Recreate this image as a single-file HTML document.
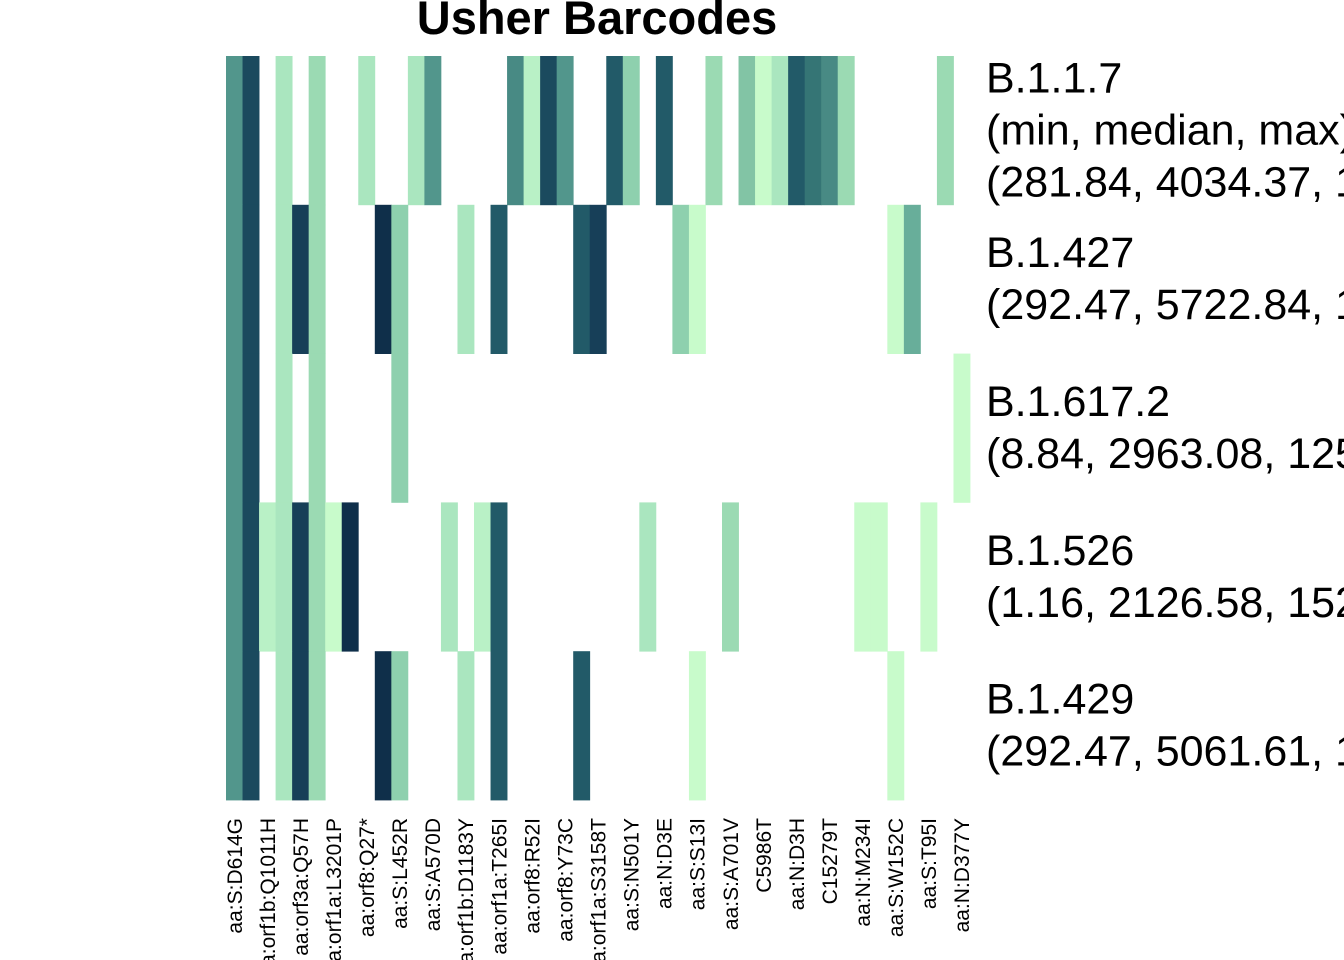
<!DOCTYPE html>
<html><head><meta charset="utf-8"><style>
html,body{margin:0;padding:0;background:#fff;}
svg{display:block;font-family:"Liberation Sans",Arial,sans-serif;}
</style></head><body>
<svg id="chart" width="1344" height="960" viewBox="0 0 1344 960" xmlns="http://www.w3.org/2000/svg">
<text x="597" y="34" text-anchor="middle" font-size="47" font-weight="bold" fill="#000">Usher Barcodes</text>
<g id="cells"></g><g id="xlabels"></g><g id="ylabels"></g>
</svg>
<script>
const lineages = ["B.1.1.7","B.1.427","B.1.617.2","B.1.526","B.1.429"];
const rowStats = [["(min, median, max)","(281.84, 4034.37, 12500.00)"],["(292.47, 5722.84, 12500.00)"],["(8.84, 2963.08, 12500.00)"],["(1.16, 2126.58, 15200.00)"],["(292.47, 5061.61, 12500.00)"]];
const colLabels = ["aa:S:D614G","aa:orf1b:Q1011H","aa:orf3a:Q57H","aa:orf1a:L3201P","aa:orf8:Q27*","aa:S:L452R","aa:S:A570D","aa:orf1b:D1183Y","aa:orf1a:T265I","aa:orf8:R52I","aa:orf8:Y73C","aa:orf1a:S3158T","aa:S:N501Y","aa:N:D3E","aa:S:S13I","aa:S:A701V","C5986T","aa:N:D3H","C15279T","aa:N:M234I","aa:S:W152C","aa:S:T95I","aa:N:D377Y"];
const nCols = 45;
// value levels per cell (0 = absent, 1 lightest .. 14 darkest), listed as [column, level]
const row0 = [[0,8],[1,12],[3,3],[5,4],[8,3],[11,3],[12,8],[17,9],[18,2],[19,12],[20,8],[23,11],[24,5],[26,11],[29,4],[31,6],[32,1],[33,3],[34,11],[35,10],[36,9],[37,4],[43,4]];
const row1 = [[0,8],[1,12],[3,3],[4,13],[5,4],[9,14],[10,5],[14,3],[16,11],[21,11],[22,13],[27,5],[28,1],[40,1],[41,7]];
const row2 = [[0,8],[1,12],[3,3],[5,4],[10,5],[44,1]];
const row3 = [[0,8],[1,12],[2,2],[3,3],[4,13],[5,4],[6,1],[7,14],[13,3],[15,2],[16,11],[25,3],[30,4],[38,1],[39,1],[42,1]];
const row4 = [[0,8],[1,12],[3,3],[4,13],[5,4],[9,14],[10,5],[14,3],[16,11],[21,11],[28,1],[40,1]];
const rows = [row0,row1,row2,row3,row4];
const palette = ["#ffffff","#c8fbcb","#b9f1c6","#aae6bf","#9bdab3","#8ed0ae","#82c4a5","#68ae9a","#52968c","#488a84","#357575","#225a68","#1b4a5e","#173f58","#0f2f4a"];

const X0=226, X1=970, Y0=56, Y1=800;
const cw=(X1-X0)/nCols, rh=(Y1-Y0)/lineages.length;
const xPos=c=>X0+c*cw, yPos=r=>Y0+r*rh;
const NS="http://www.w3.org/2000/svg";
const cells=document.getElementById('cells');
rows.forEach((row,r)=>{row.forEach(([c,v])=>{
  const el=document.createElementNS(NS,'rect');
  el.setAttribute('x',xPos(c));el.setAttribute('y',yPos(r));
  el.setAttribute('width',cw+0.4);el.setAttribute('height',rh+0.4);
  el.setAttribute('fill',palette[v]);
  
  
  cells.appendChild(el);
});});
const xl=document.getElementById('xlabels');
colLabels.forEach((t,i)=>{
  const cx=xPos(2*i)+cw/2+7.5, y=818;
  const el=document.createElementNS(NS,'text');
  el.setAttribute('transform',`translate(${cx},${y}) rotate(-90)`);
  el.setAttribute('text-anchor','end');el.setAttribute('font-size','21');
  el.textContent=t;
  
  
  xl.appendChild(el);
});
const yl=document.getElementById('ylabels');
lineages.forEach((name,r)=>{
  const lines=[name].concat(rowStats[r]);
  const gap=52, mid=yPos(r)+rh/2;
  const first=mid-((lines.length-1)*gap)/2+14;
  lines.forEach((t,k)=>{
    const el=document.createElementNS(NS,'text');
    el.setAttribute('x',986);el.setAttribute('y',first+k*gap);
    el.setAttribute('font-size','43');
    el.textContent=t;
    
    
    yl.appendChild(el);
  });
});
</script>
</body></html>
